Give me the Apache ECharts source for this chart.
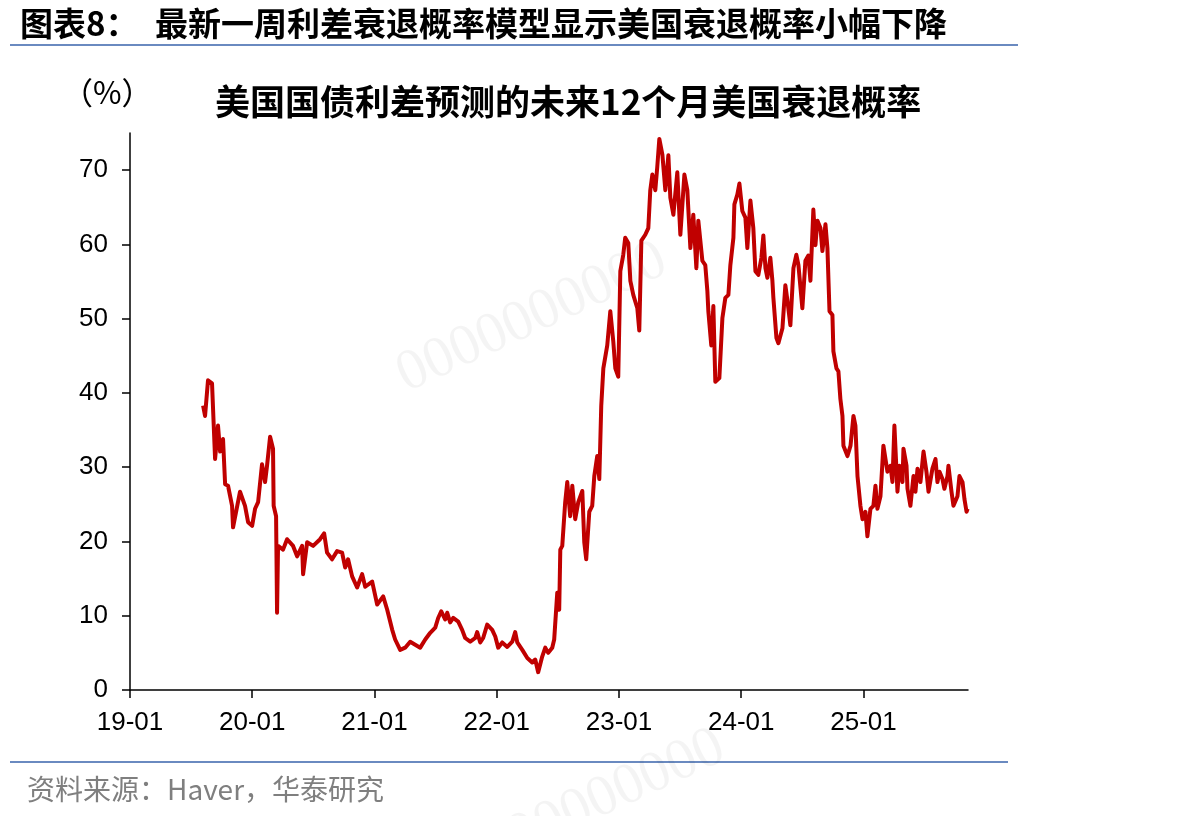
<!DOCTYPE html>
<html><head><meta charset="utf-8">
<script src="https://cdn.jsdelivr.net/npm/echarts@6/dist/echarts.min.js"></script>
<style>html,body{margin:0;padding:0;background:#fff}#c{width:1202px;height:816px}</style>
</head><body><div id="c"></div>
<script>
// decimal-year positions of observations
const dates = [
2019.598,2019.614,2019.638,2019.671,2019.696,2019.720,2019.737,2019.761,2019.778,2019.802,
2019.835,2019.843,2019.900,2019.941,2019.966,2019.999,2020.023,2020.048,2020.080,2020.105,
2020.121,2020.146,2020.170,2020.175,2020.195,2020.203,2020.211,2020.252,2020.285,2020.334,
2020.367,2020.408,2020.416,2020.449,2020.498,2020.555,2020.588,2020.612,2020.653,2020.694,
2020.735,2020.760,2020.784,2020.817,2020.858,2020.899,2020.924,2020.981,2021.022,2021.071,
2021.104,2021.145,2021.169,2021.210,2021.251,2021.292,2021.333,2021.374,2021.415,2021.456,
2021.497,2021.521,2021.546,2021.578,2021.595,2021.619,2021.644,2021.685,2021.717,2021.742,
2021.783,2021.824,2021.840,2021.865,2021.889,2021.922,2021.963,2021.988,2022.012,2022.045,
2022.086,2022.127,2022.151,2022.168,2022.209,2022.250,2022.290,2022.315,2022.339,2022.372,
2022.397,2022.421,2022.454,2022.470,2022.495,2022.511,2022.520,2022.536,2022.560,2022.577,
2022.601,2022.618,2022.642,2022.667,2022.700,2022.716,2022.732,2022.757,2022.781,2022.798,
2022.822,2022.839,2022.855,2022.872,2022.904,2022.929,2022.953,2022.970,2022.994,2023.011,
2023.035,2023.051,2023.076,2023.093,2023.117,2023.150,2023.166,2023.183,2023.215,2023.240,
2023.256,2023.273,2023.297,2023.313,2023.330,2023.355,2023.379,2023.404,2023.420,2023.445,
2023.477,2023.502,2023.535,2023.559,2023.584,2023.608,2023.633,2023.649,2023.682,2023.706,
2023.723,2023.731,2023.755,2023.772,2023.788,2023.821,2023.846,2023.870,2023.895,2023.911,
2023.936,2023.944,2023.968,2023.985,2024.009,2024.034,2024.050,2024.075,2024.099,2024.116,
2024.140,2024.165,2024.181,2024.198,2024.214,2024.238,2024.255,2024.263,2024.288,2024.304,
2024.337,2024.361,2024.378,2024.402,2024.427,2024.451,2024.468,2024.500,2024.525,2024.549,
2024.566,2024.590,2024.607,2024.623,2024.648,2024.664,2024.689,2024.705,2024.722,2024.746,
2024.754,2024.779,2024.795,2024.811,2024.828,2024.836,2024.869,2024.894,2024.918,2024.934,
2024.951,2024.975,2024.992,2025.016,2025.032,2025.057,2025.081,2025.098,2025.114,2025.139,
2025.163,2025.180,2025.196,2025.221,2025.237,2025.253,2025.278,2025.294,2025.319,2025.327,
2025.352,2025.360,2025.384,2025.409,2025.425,2025.442,2025.466,2025.491,2025.515,2025.532,
2025.564,2025.589,2025.605,2025.622,2025.646,2025.662,2025.687,2025.695,2025.720,2025.736,
2025.769,2025.785,2025.810,2025.826,2025.843,2025.852
];
// recession probability (%)
const probability = [
38.3,36.9,41.7,41.3,31.1,35.6,32.1,33.8,27.7,27.5,
24.8,21.9,26.7,24.8,22.6,22.1,24.4,25.3,30.4,28.0,
30.2,34.1,32.5,24.8,23.4,10.4,19.4,18.9,20.3,19.4,
18.0,19.4,15.6,19.9,19.4,20.3,21.1,18.5,17.6,18.7,
18.5,16.5,17.6,15.3,13.8,15.6,13.9,14.6,11.5,12.6,
10.8,8.1,6.8,5.4,5.7,6.5,6.1,5.7,6.8,7.7,
8.4,9.7,10.6,9.5,10.4,9.1,9.7,9.2,8.1,7.0,
6.5,7.0,7.8,6.4,7.0,8.8,8.1,7.2,5.7,6.4,
5.8,6.5,7.8,6.4,5.4,4.3,3.7,4.1,2.4,4.5,
5.7,5.0,5.7,6.8,13.1,10.8,18.9,19.4,25.3,28.0,
23.4,27.5,23.0,25.3,26.8,19.9,17.6,24.0,24.8,28.8,
31.5,28.4,38.3,43.3,46.4,51.0,47.0,43.3,42.2,56.4,
58.6,60.9,60.2,55.1,53.2,51.4,48.4,60.5,61.3,62.2,
67.3,69.4,67.3,70.4,74.2,72.1,67.3,72.0,66.3,64.0,
69.7,61.3,69.4,67.3,59.5,64.0,56.8,63.2,57.8,57.2,
53.7,51.0,46.4,51.7,41.5,42.0,50.1,52.8,53.2,57.2,
60.9,65.4,66.7,68.2,64.5,63.6,59.5,65.9,62.2,56.4,
55.9,58.2,61.2,56.8,55.5,58.2,55.1,52.8,47.4,46.7,
48.7,54.5,52.4,49.1,56.8,58.6,57.2,51.4,57.8,58.5,
55.1,64.7,59.9,63.2,62.2,59.1,62.7,59.5,51.0,50.5,
45.6,43.3,42.9,39.2,36.9,32.9,31.5,32.9,36.9,35.6,
28.8,24.8,23.0,24.0,20.7,24.4,24.8,27.5,24.4,26.1,
32.9,31.1,29.4,30.2,28.0,35.6,26.7,30.2,28.0,32.5,
30.2,27.1,24.8,28.8,26.7,29.8,28.0,32.1,29.4,26.7,
29.8,31.1,28.0,29.4,28.4,27.1,28.8,30.2,26.7,24.8,
26.1,28.8,28.0,25.7,24.0,24.4
];
const xTickYears = [2019,2020,2021,2022,2023,2024,2025];
const xTickLabels = ['19-01','20-01','21-01','22-01','23-01','24-01','25-01'];
const yTicks = [0,10,20,30,40,50,60,70];

const seriesData = dates.map((d,i)=>[d, probability[i]]);
const chart = echarts.init(document.getElementById('c'), null, {renderer:'canvas'});
const CJK = "'Noto Sans CJK SC', sans-serif";
chart.setOption({
  animation:false,
  backgroundColor:'#fff',
  title:[
    {text:'图表8：', left:15, top:2, textStyle:{fontFamily:CJK,fontSize:33,fontWeight:'bold',color:'#000'}},
    {text:'最新一周利差衰退概率模型显示美国衰退概率小幅下降', left:150, top:2, textStyle:{fontFamily:CJK,fontSize:33,fontWeight:'bold',color:'#000'}},
    {text:'美国国债利差预测的未来12个月美国衰退概率', left:210, top:79, textStyle:{fontFamily:CJK,fontSize:35,fontWeight:'bold',color:'#000'}},
    {text:'（%）', left:57, top:72, textStyle:{fontFamily:CJK,fontSize:31,fontWeight:'normal',color:'#000'}},
    {text:'资料来源：Haver，华泰研究', left:22, top:770, textStyle:{fontFamily:CJK,fontSize:28,fontWeight:'normal',color:'#7f7f7f'}}
  ],
  graphic:[
    {type:'line', shape:{x1:10,y1:45,x2:1018,y2:45}, style:{stroke:'#6A8AC0',lineWidth:2}},
    {type:'line', shape:{x1:10,y1:762,x2:1008,y2:762}, style:{stroke:'#6A8AC0',lineWidth:2}},
    {type:'text', x:532, y:318, rotation:0.43, style:{text:'0000000000', fill:'rgba(0,0,0,0.045)', font:'58px "Liberation Serif"', align:'center', verticalAlign:'middle'}},
    {type:'text', x:590, y:805, rotation:0.43, style:{text:'0000000000', fill:'rgba(0,0,0,0.045)', font:'58px "Liberation Serif"', align:'center', verticalAlign:'middle'}}
  ],
  grid:{left:130, right:234, top:133, bottom:126, containLabel:false},
  xAxis:{
    type:'value', min:2019, max:2025.855,
    axisLine:{show:true,lineStyle:{color:'#000',width:1.5}},
    axisTick:{show:true,inside:false,length:8,customValues:xTickYears,lineStyle:{color:'#000',width:1.5}},
    axisLabel:{customValues:xTickYears, formatter:v=>xTickLabels[xTickYears.indexOf(Math.round(v))]||'', fontFamily:"'Liberation Sans', Arial, sans-serif", fontSize:26, color:'#000', margin:20},
    splitLine:{show:false}
  },
  yAxis:{
    type:'value', min:0, max:75,
    axisLine:{show:true,lineStyle:{color:'#000',width:1.5}},
    axisTick:{show:true,inside:false,length:8,customValues:yTicks,lineStyle:{color:'#000',width:1.5}},
    axisLabel:{customValues:yTicks, fontFamily:"'Liberation Sans', Arial, sans-serif", fontSize:26, color:'#000', margin:22},
    splitLine:{show:false}
  },
  series:[{
    type:'line', data:seriesData, showSymbol:false, symbol:'none',
    lineStyle:{color:'#C00000', width:4, join:'round'}
  }]
});
</script></body></html>
